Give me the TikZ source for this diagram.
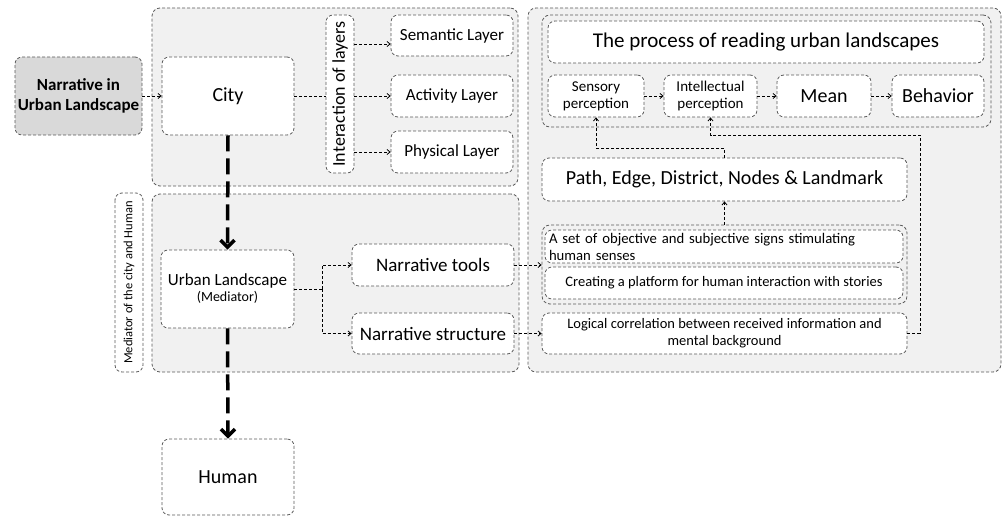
\documentclass[tikz,border=0pt]{standalone}
\usepackage{fontspec}
\setmainfont{Carlito}
\usetikzlibrary{arrows.meta,calc}
\definecolor{bordergray}{HTML}{5A5A5A}
\definecolor{panelgray}{HTML}{F1F1F1}
\definecolor{headgray}{HTML}{D9D9D9}
\newcommand{\fsz}[1]{\fontsize{#1}{\fpeval{#1*1.15}}\selectfont}
\tikzset{
  panel/.style={draw=bordergray, dash pattern=on 3pt off 2pt, line width=0.8pt, rounded corners=8pt, fill=panelgray, inner sep=0pt},
  box/.style={draw=bordergray, dash pattern=on 3pt off 2pt, line width=0.8pt, rounded corners=7pt, fill=white, inner sep=2pt, align=center},
  conn/.style={draw=black, dash pattern=on 3pt off 2pt, line width=0.8pt, -{Straight Barb[length=3pt,width=5pt]}},
  plainline/.style={draw=black, dash pattern=on 3pt off 2pt, line width=0.8pt},
  bigarrow/.style={draw=black, dash pattern=on 16pt off 7pt, line width=3.5pt, -{Straight Barb[length=7pt,width=14pt]}},
}
\begin{document}
\begin{tikzpicture}[x=1pt,y=-1pt]
\useasboundingbox (0,0) rectangle (1008,516);
% panels
\node[panel, minimum width=366pt, minimum height=178pt] (topC) at (335,97) {};
\node[panel, minimum width=367pt, minimum height=178pt] (midC) at (335.5,283) {};
\node[panel, minimum width=473pt, minimum height=364pt] (rightC) at (764.5,190) {};
\node[panel, minimum width=449pt, minimum height=112pt] (procC) at (766.5,71) {};
\node[panel, minimum width=365pt, minimum height=79pt] (signsC) at (724.5,264.5) {};
% left column
\node[box, fill=headgray, font=\bfseries\fsz{17}, minimum width=127pt, minimum height=78pt] (narr) at (78.5,96) {Narrative in\\Urban Landscape};
\node[box, font=\fsz{20}, minimum width=132pt, minimum height=78pt] (city) at (228,96) {City};
\node[box, rotate=90, font=\fsz{18}, minimum width=158pt, minimum height=28pt, inner sep=0pt] (inter) at (340,94) {Interaction of layers};
\node[box, font=\fsz{17}, minimum width=122pt, minimum height=41pt] (sem) at (452,35.5) {Semantic Layer};
\node[box, font=\fsz{17}, minimum width=122pt, minimum height=42pt] (act) at (452,96) {Activity Layer};
\node[box, font=\fsz{17}, minimum width=122pt, minimum height=42pt] (phy) at (452,152) {Physical Layer};
\node[box, rotate=90, font=\fsz{12.5}, minimum width=179pt, minimum height=28pt, inner sep=0pt] (med) at (129,282.5) {Mediator of the city and Human};
\node[box, minimum width=133pt, minimum height=78pt] (ul) at (227.5,289) {{\fsz{17}Urban Landscape}\\[2pt]{\fsz{14}(Mediator)}};
\node[box, font=\fsz{19}, minimum width=162pt, minimum height=42pt] (nt) at (433,265) {Narrative tools};
\node[box, font=\fsz{19}, minimum width=162pt, minimum height=41pt] (ns) at (433,333.5) {Narrative structure};
\node[box, font=\fsz{20}, minimum width=132pt, minimum height=76pt] (human) at (228,477) {Human};
% right column
\node[box, font=\fsz{21}, minimum width=436pt, minimum height=42pt] (title) at (766,42) {The process of reading urban landscapes};
\node[box, font=\fsz{15}, minimum width=96pt, minimum height=42pt, inner sep=0pt] (sens) at (596,96) {Sensory\\perception};
\node[box, font=\fsz{15}, minimum width=93pt, minimum height=42pt, inner sep=0pt] (intel) at (710.5,96) {Intellectual\\perception};
\node[box, font=\fsz{20}, minimum width=94pt, minimum height=42pt] (mean) at (824,96) {Mean};
\node[box, font=\fsz{20}, minimum width=92pt, minimum height=42pt] (behav) at (938,96) {Behavior};
\node[box, font=\fsz{20}, minimum width=365pt, minimum height=43pt] (path) at (724.5,179.5) {Path, Edge, District, Nodes \& Landmark};
\node[box, font=\fsz{14.7}, text width=350pt, align=left, minimum height=33pt, inner xsep=4pt, inner ysep=0pt] (signs) at (724,246.5) {A set of objective and subjective signs stimulating\\human senses};
\node[box, font=\fsz{14.5}, minimum width=358pt, minimum height=32pt, inner ysep=0pt] (creat) at (724,283) {Creating a platform for human interaction with stories};
\node[box, font=\fsz{14.5}, minimum width=365pt, minimum height=41pt, inner ysep=0pt] (logic) at (724.5,333.5) {Logical correlation between received information and\\mental background};
% helper coordinates
\coordinate (ulj) at (322,289);
\coordinate (pj) at (724.5,148);
\coordinate (lj) at (920,135);
% connectors
\draw[conn] (narr.east) -- (city.west);
\draw[plainline] (city.east) -- (city.east -| inter.north);
\draw[conn] ([yshift=-8.5pt]sem.west -| inter.south) -- ([yshift=-8.5pt]sem.west);
\draw[conn] (act.west -| inter.south) -- (act.west);
\draw[conn] (phy.west -| inter.south) -- (phy.west);
\draw[plainline] (ul.east) -- (ulj);
\draw[conn] (ulj) |- (nt.west);
\draw[conn] (ulj) |- (ns.west);
\draw[conn] (nt.east) -- (nt.east -| signsC.west);
\draw[conn] (ns.east) -- (logic.west);
\draw[conn] (signsC.north) -- (path.south);
\draw[conn] (path.north) -- (pj) -| (sens.south);
\draw[conn] (logic.east) -| (lj) -| (intel.south);
\draw[conn] (sens.east) -- (intel.west);
\draw[conn] (intel.east) -- (mean.west);
\draw[conn] (mean.east) -- (behav.west);
\draw[bigarrow] (city.south) -- (ul.north);
\draw[bigarrow] (ul.south) -- (human.north);
\end{tikzpicture}
\end{document}
